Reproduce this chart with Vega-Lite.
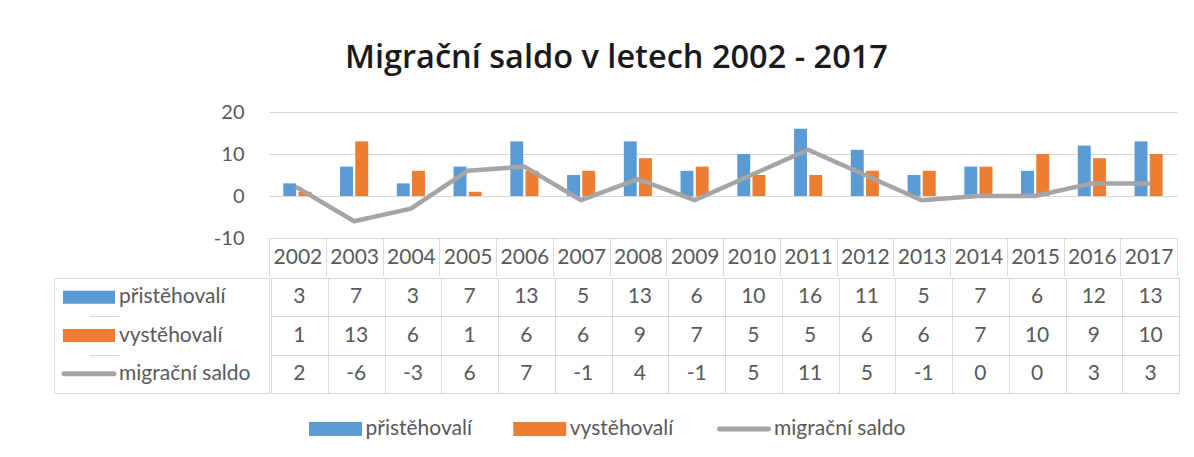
{
  "$schema": "https://vega.github.io/schema/vega-lite/v6.json",
  "background": "white",
  "padding": {"left": 53, "top": 41, "right": 10, "bottom": 5},
  "title": {"text": "Migrační saldo v letech 2002 - 2017", "fontSize": 32.5, "font": "Open Sans", "fontWeight": 600, "color": "#1a1a1a", "anchor": "middle", "frame": "bounds", "offset": 28},
  "config": {
    "font": "Lato",
    "view": {"stroke": "#d9d9d9", "strokeWidth": 1},
    "axis": {"labelFont": "Lato", "titleFont": "Lato"}
  },
  "datasets": {
    "d": [
      {"year": "2002", "series": "přistěhovalí", "value": 3},
      {"year": "2003", "series": "přistěhovalí", "value": 7},
      {"year": "2004", "series": "přistěhovalí", "value": 3},
      {"year": "2005", "series": "přistěhovalí", "value": 7},
      {"year": "2006", "series": "přistěhovalí", "value": 13},
      {"year": "2007", "series": "přistěhovalí", "value": 5},
      {"year": "2008", "series": "přistěhovalí", "value": 13},
      {"year": "2009", "series": "přistěhovalí", "value": 6},
      {"year": "2010", "series": "přistěhovalí", "value": 10},
      {"year": "2011", "series": "přistěhovalí", "value": 16},
      {"year": "2012", "series": "přistěhovalí", "value": 11},
      {"year": "2013", "series": "přistěhovalí", "value": 5},
      {"year": "2014", "series": "přistěhovalí", "value": 7},
      {"year": "2015", "series": "přistěhovalí", "value": 6},
      {"year": "2016", "series": "přistěhovalí", "value": 12},
      {"year": "2017", "series": "přistěhovalí", "value": 13},
      {"year": "2002", "series": "vystěhovalí", "value": 1},
      {"year": "2003", "series": "vystěhovalí", "value": 13},
      {"year": "2004", "series": "vystěhovalí", "value": 6},
      {"year": "2005", "series": "vystěhovalí", "value": 1},
      {"year": "2006", "series": "vystěhovalí", "value": 6},
      {"year": "2007", "series": "vystěhovalí", "value": 6},
      {"year": "2008", "series": "vystěhovalí", "value": 9},
      {"year": "2009", "series": "vystěhovalí", "value": 7},
      {"year": "2010", "series": "vystěhovalí", "value": 5},
      {"year": "2011", "series": "vystěhovalí", "value": 5},
      {"year": "2012", "series": "vystěhovalí", "value": 6},
      {"year": "2013", "series": "vystěhovalí", "value": 6},
      {"year": "2014", "series": "vystěhovalí", "value": 7},
      {"year": "2015", "series": "vystěhovalí", "value": 10},
      {"year": "2016", "series": "vystěhovalí", "value": 9},
      {"year": "2017", "series": "vystěhovalí", "value": 10},
      {"year": "2002", "series": "migrační saldo", "value": 2},
      {"year": "2003", "series": "migrační saldo", "value": -6},
      {"year": "2004", "series": "migrační saldo", "value": -3},
      {"year": "2005", "series": "migrační saldo", "value": 6},
      {"year": "2006", "series": "migrační saldo", "value": 7},
      {"year": "2007", "series": "migrační saldo", "value": -1},
      {"year": "2008", "series": "migrační saldo", "value": 4},
      {"year": "2009", "series": "migrační saldo", "value": -1},
      {"year": "2010", "series": "migrační saldo", "value": 5},
      {"year": "2011", "series": "migrační saldo", "value": 11},
      {"year": "2012", "series": "migrační saldo", "value": 5},
      {"year": "2013", "series": "migrační saldo", "value": -1},
      {"year": "2014", "series": "migrační saldo", "value": 0},
      {"year": "2015", "series": "migrační saldo", "value": 0},
      {"year": "2016", "series": "migrační saldo", "value": 3},
      {"year": "2017", "series": "migrační saldo", "value": 3}
    ]
  },
  "data": {"name": "d"},
  "spacing": 0,
  "resolve": {"scale": {"x": "independent", "y": "independent"}},
  "vconcat": [
    {
      "spacing": 0,
      "resolve": {"scale": {"x": "independent", "y": "independent"}},
      "hconcat": [
        {
          "width": 155,
          "height": 126,
          "view": {"stroke": null},
          "data": {"values": []},
          "mark": {"type": "text"}
        },
        {
          "width": 908,
          "height": 126,
          "view": {"stroke": null},
          "encoding": {
            "x": {
              "field": "year", "type": "ordinal",
              "scale": {"paddingInner": 0, "paddingOuter": 0},
              "axis": {"title": null, "orient": "bottom", "tickBand": "extent", "ticks": true, "tickSize": 38, "tickColor": "#d9d9d9", "domain": true, "domainColor": "#d9d9d9", "grid": false, "labelAngle": 0, "labelFontSize": 21, "labelColor": "#595959", "labelBaseline": "middle", "labelPadding": -19, "labelOverlap": false}
            }
          },
          "layer": [
            {
              "transform": [{"filter": "datum.series !== 'migrační saldo'"}],
              "mark": {"type": "bar"},
              "encoding": {
                "xOffset": {"field": "series", "type": "nominal", "sort": ["přistěhovalí", "vystěhovalí"], "scale": {"paddingInner": 0.15, "paddingOuter": 0.94}},
                "y": {
                  "field": "value", "type": "quantitative",
                  "scale": {"domain": [-10, 20], "nice": false},
                  "axis": {"title": null, "values": [-10, -5, 0, 5, 10, 15, 20], "labelExpr": "'' + datum.value", "grid": true, "gridColor": "#d9d9d9", "domain": false, "ticks": false, "labelPadding": 25, "labelFontSize": 20, "labelColor": "#595959", "minExtent": 60, "maxExtent": 60}
                },
                "color": {"field": "series", "type": "nominal", "scale": {"domain": ["přistěhovalí", "vystěhovalí", "migrační saldo"], "range": ["#5b9bd5", "#ed7d31", "#a5a5a5"]}, "legend": null}
              }
            },
            {
              "transform": [{"filter": "datum.series === 'migrační saldo'"}],
              "mark": {"type": "line", "strokeWidth": 4.5, "strokeCap": "round", "strokeJoin": "round"},
              "encoding": {
                "y": {"field": "value", "type": "quantitative"},
                "color": {"field": "series", "type": "nominal", "legend": null}
              }
            }
          ]
        }
      ]
    },
    {
      "spacing": 0,
      "resolve": {"scale": {"x": "independent", "y": "independent"}},
      "hconcat": [
        {
          "width": 215,
          "height": 115,
          "transform": [{"filter": "datum.year === '2002'"}],
          "encoding": {
            "y": {"field": "series", "type": "nominal", "sort": ["přistěhovalí", "vystěhovalí", "migrační saldo"], "scale": {"paddingInner": 0, "paddingOuter": 0}, "axis": {"title": null, "grid": true, "tickBand": "extent", "labels": false, "ticks": false, "domain": false, "gridColor": "#d9d9d9"}}
          },
          "layer": [
            {
              "transform": [{"filter": "datum.series !== 'migrační saldo'"}],
              "mark": {"type": "tick", "orient": "horizontal", "thickness": 13, "size": 52, "opacity": 1},
              "encoding": {
                "x": {"datum": "sym", "type": "nominal", "scale": {"type": "point", "padding": 0, "domain": ["sym", "txt"], "range": [35, 65]}, "axis": null},
                "color": {"field": "series", "type": "nominal", "scale": {"domain": ["přistěhovalí", "vystěhovalí", "migrační saldo"], "range": ["#5b9bd5", "#ed7d31", "#a5a5a5"]}, "legend": null}
              }
            },
            {
              "transform": [{"filter": "datum.series === 'migrační saldo'"}],
              "mark": {"type": "tick", "orient": "horizontal", "thickness": 5, "size": 55, "opacity": 1, "cornerRadius": 2.5},
              "encoding": {
                "x": {"datum": "sym", "type": "nominal"},
                "color": {"field": "series", "type": "nominal", "legend": null}
              }
            },
            {
              "mark": {"type": "text", "align": "left", "baseline": "middle", "fontSize": 21, "color": "#595959"},
              "encoding": {
                "x": {"datum": "txt", "type": "nominal"},
                "text": {"field": "series"}
              }
            }
          ]
        },
        {
          "width": 908,
          "height": 115,
          "mark": {"type": "text", "fontSize": 21, "color": "#595959", "baseline": "middle"},
          "encoding": {
            "x": {"field": "year", "type": "ordinal", "scale": {"paddingInner": 0, "paddingOuter": 0}, "axis": {"title": null, "grid": true, "tickBand": "extent", "labels": false, "ticks": false, "domain": false, "gridColor": "#d9d9d9"}},
            "y": {"field": "series", "type": "nominal", "sort": ["přistěhovalí", "vystěhovalí", "migrační saldo"], "scale": {"paddingInner": 0, "paddingOuter": 0}, "axis": {"title": null, "grid": true, "tickBand": "extent", "labels": false, "ticks": false, "domain": false, "gridColor": "#d9d9d9"}},
            "text": {"field": "value", "type": "nominal"}
          }
        }
      ]
    },
    {
      "width": 1123,
      "height": 70,
      "view": {"stroke": null},
      "transform": [{"filter": "datum.year === '2002'"}],
      "encoding": {
        "x": {"field": "series", "type": "nominal", "sort": ["přistěhovalí", "vystěhovalí", "migrační saldo"], "scale": {"type": "point", "padding": 0, "range": [281.5, 690]}, "axis": null}
      },
      "layer": [
        {
          "transform": [{"filter": "datum.series !== 'migrační saldo'"}],
          "mark": {"type": "tick", "orient": "horizontal", "thickness": 14, "size": 53, "opacity": 1},
          "encoding": {
            "color": {"field": "series", "type": "nominal", "scale": {"domain": ["přistěhovalí", "vystěhovalí", "migrační saldo"], "range": ["#5b9bd5", "#ed7d31", "#a5a5a5"]}, "legend": null}
          }
        },
        {
          "transform": [{"filter": "datum.series === 'migrační saldo'"}],
          "mark": {"type": "tick", "orient": "horizontal", "thickness": 5, "size": 54, "opacity": 1, "cornerRadius": 2.5},
          "encoding": {
            "color": {"field": "series", "type": "nominal", "legend": null}
          }
        },
        {
          "mark": {"type": "text", "align": "left", "baseline": "middle", "fontSize": 21, "color": "#595959", "dx": 30},
          "encoding": {"text": {"field": "series"}}
        }
      ]
    }
  ]
}
